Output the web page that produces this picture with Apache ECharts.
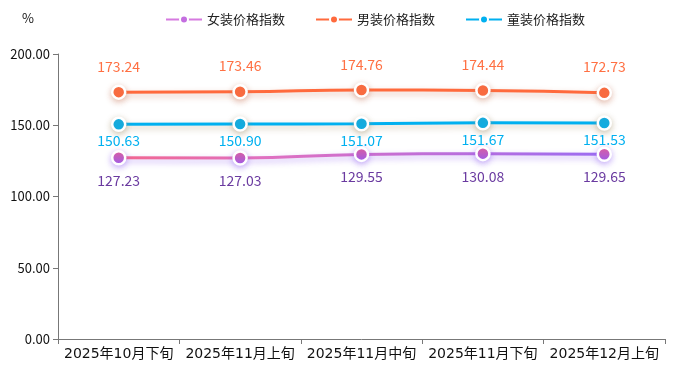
<!DOCTYPE html>
<html><head><meta charset="utf-8">
<script src="https://cdn.jsdelivr.net/npm/echarts@6/dist/echarts.min.js"></script>
<style>html,body{margin:0;padding:0;background:#fff}#c{width:680px;height:374px}</style>
</head><body><div id="c"></div>
<script>
const categories = ['2025年10月下旬','2025年11月上旬','2025年11月中旬','2025年11月下旬','2025年12月上旬'];
const women = [127.23,127.03,129.55,130.08,129.65];
const men = [173.24,173.46,174.76,174.44,172.73];
const kids = [150.63,150.90,151.07,151.67,151.53];
const yTicks = {min:0,max:200,interval:50};
const font = '"Noto Sans CJK SC","Microsoft YaHei",sans-serif';
const grad = new echarts.graphic.LinearGradient(0,0,1,0,[{offset:0,color:'#f2668f'},{offset:0.3,color:'#e070c0'},{offset:1,color:'#9b6cf2'}]);
const gradV = new echarts.graphic.LinearGradient(0,0,0,1,[{offset:0,color:'#f0608a'},{offset:1,color:'#9b5cf0'}]);
function mk(name, data, lineColor, markerColor, labelColor, pos, dist, shadow){
  return {name, type:'line', data, smooth:true, symbol:'circle', symbolSize:13,
    lineStyle:{width:3,color:lineColor,shadowColor:shadow,shadowBlur:6,shadowOffsetY:3},
    itemStyle:{color:markerColor,borderColor:'#fff',borderWidth:2.5,shadowColor:shadow,shadowBlur:6,shadowOffsetY:2},
    label:{show:true,position:pos,distance:dist,color:labelColor,fontSize:14,fontFamily:font,formatter:p=>p.value.toFixed(2)}};
}
const chart = echarts.init(document.getElementById('c'));
chart.setOption({
  animation:false,
  legend:{top:8,left:160,itemWidth:36,itemHeight:10,itemGap:30,textStyle:{fontSize:13,fontFamily:font,color:'#222'},
    data:[{name:'女装价格指数',itemStyle:{color:'#c46ee0'},lineStyle:{color:'#d67ae0'}},{name:'男装价格指数'},{name:'童装价格指数'}]},
  grid:{left:58,right:15,top:54,bottom:35},
  xAxis:{type:'category',data:categories,boundaryGap:true,
    axisLine:{lineStyle:{color:'#777'}},axisTick:{show:true,lineStyle:{color:'#777'}},
    axisLabel:{color:'#111',fontSize:14,fontFamily:'"DejaVu Sans","Noto Sans CJK SC",sans-serif',interval:0,margin:8}},
  yAxis:{type:'value',min:yTicks.min,max:yTicks.max,interval:yTicks.interval,name:'%',nameGap:29,
    nameTextStyle:{color:'#111',fontSize:13,fontFamily:font,padding:[0,60,0,0]},
    axisLine:{show:true,lineStyle:{color:'#777'}},axisTick:{show:true,lineStyle:{color:'#777'}},splitLine:{show:false},
    axisLabel:{color:'#111',fontSize:13,fontFamily:font,formatter:v=>v.toFixed(2)}},
  series:[
    mk('女装价格指数',women,grad,gradV,'#6a3aa0','bottom',8,'rgba(140,90,240,0.45)'),
    mk('男装价格指数',men,'#ff6a3d','#ff6a3d','#ff7043','top',11,'rgba(200,120,90,0.45)'),
    mk('童装价格指数',kids,'#00b0f0','#00b0f0','#00b0f0','bottom',2,'rgba(160,140,100,0.45)')
  ]
});
</script></body></html>
